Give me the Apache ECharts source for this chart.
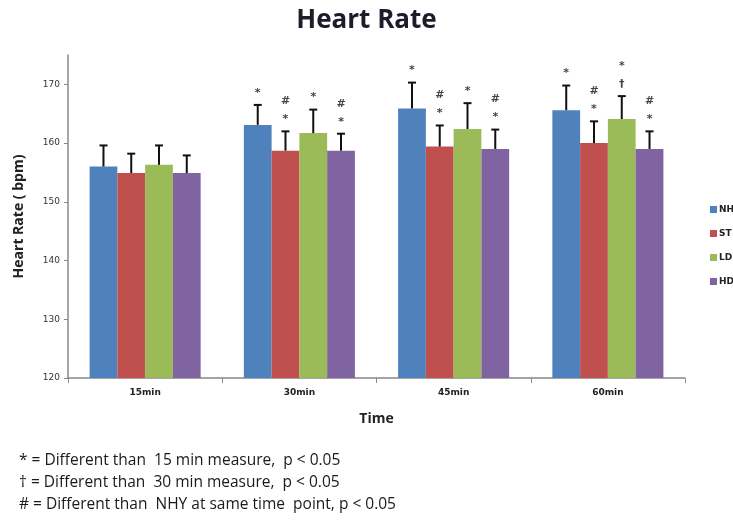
<!DOCTYPE html>
<html>
<head>
<meta charset="utf-8">
<script src="https://cdn.jsdelivr.net/npm/echarts@6/dist/echarts.min.js"></script>
<style>html,body{margin:0;padding:0;background:#fff;}#c{width:733px;height:520px;}</style>
</head>
<body>
<div id="c"></div>
<script>
var categories = ['15min', '30min', '45min', '60min'];
var seriesNames = ['NHY', 'ST', 'LD', 'HD'];
var nhy = [156.0, 163.1, 165.9, 165.6];
var st  = [154.9, 158.7, 159.4, 160.0];
var ld  = [156.3, 161.7, 162.4, 164.1];
var hd  = [154.9, 158.7, 159.0, 159.0];
var errNHY = [3.6, 3.4, 4.4, 4.2];
var errST  = [3.3, 3.3, 3.6, 3.7];
var errLD  = [3.3, 4.0, 4.4, 3.9];
var errHD  = [3.0, 2.9, 3.3, 3.0];
// significance markers, listed bottom to top
var annNHY = [[], ['*'], ['*'], ['*']];
var annST  = [[], ['*', '#'], ['*', '#'], ['*', '#']];
var annLD  = [[], ['*'], ['*'], ['\u2020', '*']];
var annHD  = [[], ['*', '#'], ['*', '#'], ['*', '#']];
var yTicks = [120, 130, 140, 150, 160, 170];
var footnotes = [
  '* = Different than  15 min measure,  p < 0.05',
  '\u2020 = Different than  30 min measure,  p < 0.05',
  '# = Different than  NHY at same time  point, p < 0.05'
];

var colors = ['#4F81BD', '#C0504D', '#9BBB59', '#8064A2'];
var values = [nhy, st, ld, hd];
var errs = [errNHY, errST, errLD, errHD];
var anns = [annNHY, annST, annLD, annHD];
var gapRatio = 0.28;

var series = [];
values.forEach(function (v, i) {
  series.push({
    name: seriesNames[i], type: 'bar', data: v,
    barGap: '0%', barCategoryGap: '28%',
    itemStyle: { color: colors[i] }
  });
});
values.forEach(function (v, i) {
  var data = v.map(function (val, j) { return [j, val, errs[i][j]]; });
  series.push({
    type: 'custom', silent: true, z: 5,
    data: data,
    renderItem: function (params, api) {
      var j = api.value(0), val = api.value(1), e = api.value(2);
      var cw = api.size([1, 0])[0];
      var bw = cw * (1 - gapRatio) / 4;
      var base = api.coord([j, val]);
      var x = base[0] - cw * (1 - gapRatio) / 2 + (i + 0.5) * bw;
      var yTop = api.coord([j, val + e])[1];
      var yBot = base[1];
      var children = [
        { type: 'line', shape: { x1: x, y1: yBot, x2: x, y2: yTop }, style: { stroke: '#111', lineWidth: 2 } },
        { type: 'line', shape: { x1: x - 4, y1: yTop, x2: x + 4, y2: yTop }, style: { stroke: '#111', lineWidth: 2 } }
      ];
      var a = anns[i][j];
      a.forEach(function (s, k) {
        children.push({
          type: 'text', x: x, y: yTop - 12 - 18 * k,
          style: { text: s, fill: '#444', font: 'bold 11px "DejaVu Sans", sans-serif', align: 'center', verticalAlign: 'middle' }
        });
      });
      return { type: 'group', children: children };
    }
  });
});

var chart = echarts.init(document.getElementById('c'), null, { renderer: 'canvas' });
chart.setOption({
  animation: false,
  backgroundColor: '#fff',
  title: {
    text: 'Heart Rate', left: 'center', top: 3,
    textStyle: { fontFamily: 'Open Sans', fontWeight: 'bold', fontSize: 26, color: '#1c1c2a' }
  },
  legend: {
    data: seriesNames, orient: 'vertical', left: 705, top: 200,
    itemWidth: 7, itemHeight: 7, itemGap: 15, icon: 'rect',
    textStyle: { fontSize: 9, color: '#222', fontFamily: 'DejaVu Sans', fontWeight: 'bold', padding: [0, 0, 0, -3] }
  },
  grid: { left: 68, right: 48, top: 55, bottom: 142 },
  xAxis: {
    type: 'category', data: categories,
    name: 'Time', nameLocation: 'middle', nameGap: 34,
    nameTextStyle: { fontFamily: 'Open Sans', fontWeight: 'bold', fontSize: 14, color: '#222' },
    axisLine: { lineStyle: { color: '#888', width: 1.5 } },
    axisTick: { show: true, length: 5, lineStyle: { color: '#888' } },
    axisLabel: { fontSize: 9, color: '#222', fontFamily: 'DejaVu Sans', fontWeight: 'bold', margin: 10 }
  },
  yAxis: {
    type: 'value', min: 120, max: 175, interval: 10,
    name: 'Heart Rate ( bpm)', nameLocation: 'middle', nameGap: 42,
    nameTextStyle: { fontFamily: 'Open Sans', fontWeight: 'bold', fontSize: 14, color: '#222' },
    axisLine: { show: true, lineStyle: { color: '#888', width: 1.5 } },
    axisTick: { show: true, length: 4, lineStyle: { color: '#888' } },
    axisLabel: {
      fontSize: 9, color: '#333', fontFamily: 'DejaVu Sans', margin: 8, showMaxLabel: false,
      formatter: function (v) { return yTicks.indexOf(v) >= 0 ? String(v) : ''; }
    },
    splitLine: { show: false }
  },
  graphic: footnotes.map(function (t, k) {
    return {
      type: 'text', left: 19, top: 453 + k * 22,
      style: { text: t, fill: '#1a1a1a', font: '15.5px "Open Sans", sans-serif' }
    };
  }),
  series: series
});
</script>
</body>
</html>
